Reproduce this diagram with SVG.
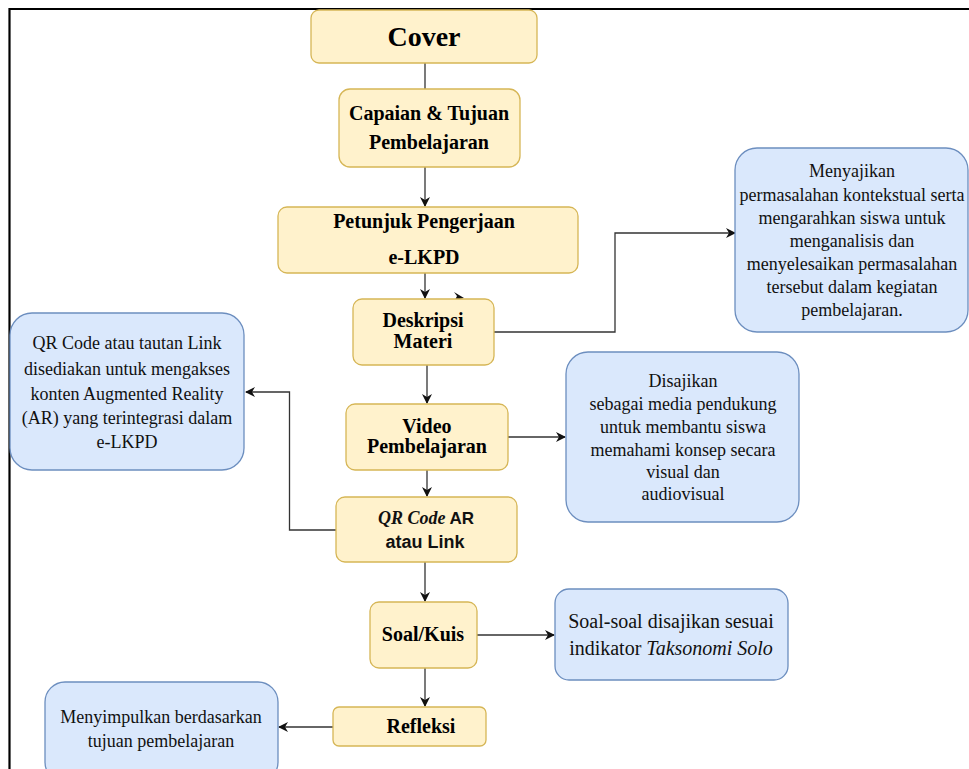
<svg xmlns="http://www.w3.org/2000/svg" width="969" height="769" viewBox="0 0 969 769">
<style>
.y{fill:#fff2cc;stroke:#d6b656;stroke-width:1.3}
.b{fill:#dae8fc;stroke:#6c8ebf;stroke-width:1.3}
.tb{font-family:"Liberation Serif",serif;font-weight:bold;font-size:20px;fill:#000;text-anchor:middle}
.tn{font-family:"Liberation Serif",serif;font-size:18px;fill:#111;text-anchor:middle}
.ts{font-family:"Liberation Sans",sans-serif;font-weight:bold;font-size:18px;fill:#111}
.c{fill:none;stroke:#333;stroke-width:1.3}
</style>
<defs>
<marker id="ar" viewBox="0 0 10 10" refX="9" refY="5" markerWidth="10" markerHeight="10" markerUnits="userSpaceOnUse" orient="auto">
<path d="M0,0 L10,5 L0,10 L3,5 Z" fill="#111"/>
</marker>
</defs>
<rect width="969" height="769" fill="#fff"/>
<g id="frame">
<path d="M9.5,769 V9 H969" fill="none" stroke="#000" stroke-width="2.2"/>
</g>
<g id="connectors">
<path class="c" d="M425,63 V89"/>
<path class="c" d="M425,167 V206" marker-end="url(#ar)"/>
<path class="c" d="M425,273 V298" marker-end="url(#ar)"/>
<path class="c" d="M494,332 H615 V233 H735" marker-end="url(#ar)"/>
<path class="c" d="M427,365 V403" marker-end="url(#ar)"/>
<path class="c" d="M508,437 H565" marker-end="url(#ar)"/>
<path class="c" d="M427,470 V496" marker-end="url(#ar)"/>
<path class="c" d="M336,530 H289.5 V392 H246" marker-end="url(#ar)"/>
<path class="c" d="M425,562 V601" marker-end="url(#ar)"/>
<path class="c" d="M477,635 H554" marker-end="url(#ar)"/>
<path class="c" d="M425,668 V706" marker-end="url(#ar)"/>
<path class="c" d="M333,727 H279" marker-end="url(#ar)"/>
<path d="M454,292 L464,298 L455,300 L457,296 Z" fill="#111"/>
</g>
<g id="cover">
<rect class="y" x="311" y="10" width="226" height="53" rx="8"/>
<text class="tb" x="424" y="46" style="font-size:28px">Cover</text>
</g>
<g id="capaian">
<rect class="y" x="339" y="89" width="181" height="78" rx="11"/>
<text class="tb" x="429" y="120">Capaian &amp; Tujuan</text>
<text class="tb" x="429" y="149">Pembelajaran</text>
</g>
<g id="petunjuk">
<rect class="y" x="278" y="207" width="300" height="66" rx="9"/>
<text class="tb" x="424" y="228">Petunjuk Pengerjaan</text>
<text class="tb" x="424" y="264">e-LKPD</text>
</g>
<g id="deskripsi">
<rect class="y" x="353" y="299" width="141" height="66" rx="9"/>
<text class="tb" x="423" y="327">Deskripsi</text>
<text class="tb" x="423" y="348">Materi</text>
</g>
<g id="video">
<rect class="y" x="346" y="404" width="162" height="66" rx="9"/>
<text class="tb" x="427" y="433">Video</text>
<text class="tb" x="427" y="453">Pembelajaran</text>
</g>
<g id="qrcode">
<rect class="y" x="336" y="497" width="181" height="65" rx="9"/>
<text x="426" y="524" text-anchor="middle"><tspan style="font-family:'Liberation Serif',serif;font-style:italic;font-weight:bold;font-size:18px;fill:#111">QR Code</tspan><tspan class="ts" style="font-size:17px"> AR</tspan></text>
<text class="ts" x="425" y="548" text-anchor="middle">atau Link</text>
</g>
<g id="soal">
<rect class="y" x="370" y="602" width="107" height="66" rx="9"/>
<text class="tb" x="423" y="641">Soal/Kuis</text>
</g>
<g id="refleksi">
<rect class="y" x="333" y="707" width="153" height="39" rx="6"/>
<text class="tb" x="421" y="733">Refleksi</text>
</g>
<g id="desc-deskripsi">
<rect class="b" x="735" y="148" width="233" height="184" rx="22"/>
<text class="tn" x="852" y="177">Menyajikan</text>
<text class="tn" x="852" y="201">permasalahan kontekstual serta</text>
<text class="tn" x="852" y="224">mengarahkan siswa untuk</text>
<text class="tn" x="852" y="247">menganalisis dan</text>
<text class="tn" x="852" y="270">menyelesaikan permasalahan</text>
<text class="tn" x="852" y="293">tersebut dalam kegiatan</text>
<text class="tn" x="852" y="316">pembelajaran.</text>
</g>
<g id="desc-qr">
<rect class="b" x="10" y="313" width="234" height="157" rx="22"/>
<text class="tn" x="127" y="349">QR Code atau tautan Link</text>
<text class="tn" x="127" y="375">disediakan untuk mengakses</text>
<text class="tn" x="127" y="400">konten Augmented Reality</text>
<text class="tn" x="127" y="424">(AR) yang terintegrasi dalam</text>
<text class="tn" x="127" y="448">e-LKPD</text>
</g>
<g id="desc-video">
<rect class="b" x="566" y="352" width="233" height="170" rx="22"/>
<text class="tn" x="683" y="387">Disajikan</text>
<text class="tn" x="683" y="410">sebagai media pendukung</text>
<text class="tn" x="683" y="433">untuk membantu siswa</text>
<text class="tn" x="683" y="456">memahami konsep secara</text>
<text class="tn" x="683" y="478">visual dan</text>
<text class="tn" x="683" y="500">audiovisual</text>
</g>
<g id="desc-soal">
<rect class="b" x="555" y="589" width="233" height="91" rx="14"/>
<text class="tn" x="671" y="628" style="font-size:20px">Soal-soal disajikan sesuai</text>
<text class="tn" x="671" y="655" style="font-size:20px">indikator <tspan font-style="italic">Taksonomi Solo</tspan></text>
</g>
<g id="desc-refleksi">
<rect class="b" x="45" y="682" width="233" height="100" rx="20"/>
<text class="tn" x="161" y="723">Menyimpulkan berdasarkan</text>
<text class="tn" x="161" y="747">tujuan pembelajaran</text>
</g>
</svg>
